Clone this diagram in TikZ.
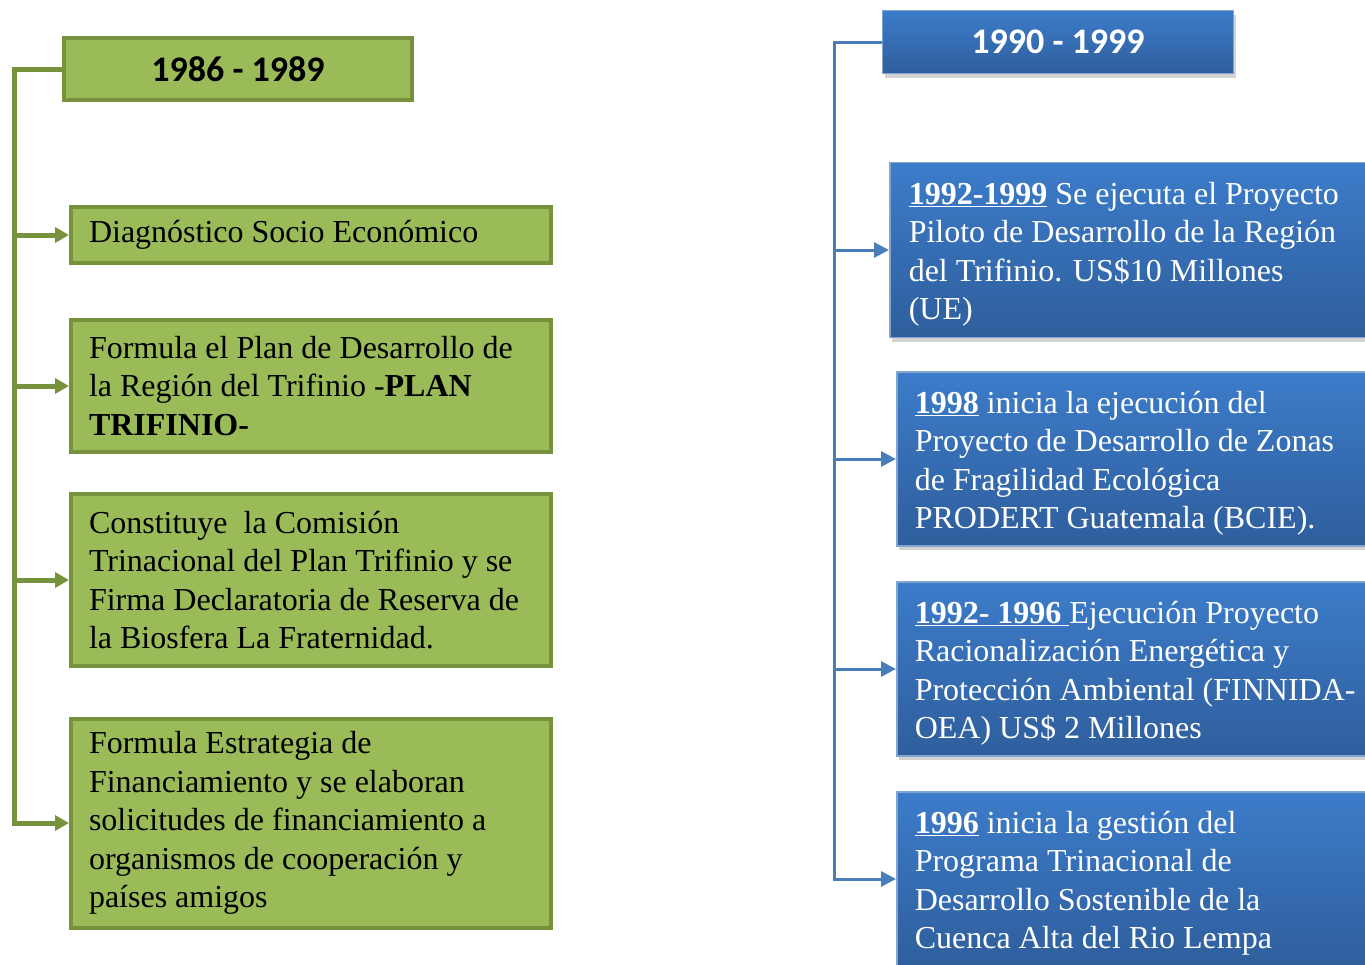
\documentclass[tikz,border=0pt]{standalone}
\usepackage{fontspec}
\setmainfont{Liberation Serif}
\newfontfamily\headfont{Carlito}
\usepackage{tikz}
\usetikzlibrary{arrows.meta,shadows}
\definecolor{olivefill}{HTML}{9BBB59}
\definecolor{olivedark}{HTML}{76923C}
\definecolor{bluetop}{HTML}{3C7CCA}
\definecolor{bluebot}{HTML}{2F5E9C}
\definecolor{blueline}{HTML}{4A7EBB}
\newcommand{\lowerpad}{\par\vspace{-9pt}}
\tikzstyle{greenbox}=[rectangle, draw=olivedark, fill=olivefill, line width=4pt, text width=444pt, inner xsep=18pt, align=left, font=\fontsize{32}{38.5}\selectfont, execute at begin node={\spaceskip=0pt\relax\xspaceskip=0pt\relax}]
\tikzstyle{bluebox}=[rectangle, draw=blueline!70!white, line width=1.5pt, top color=bluetop, bottom color=bluebot, text=white, anchor=west, text width=480pt, inner xsep=18pt, align=left, font=\fontsize{32}{38.5}\selectfont, execute at begin node={\spaceskip=0pt\relax\xspaceskip=0pt\relax}, execute at end node=\lowerpad, drop shadow={shadow xshift=2pt, shadow yshift=-4pt, opacity=0.35}]
\tikzstyle{greenhead}=[rectangle, draw=olivedark, fill=olivefill, line width=4pt, minimum width=348pt, minimum height=62pt, font=\headfont\bfseries\fontsize{36}{40}\selectfont]
\tikzstyle{bluehead}=[rectangle, draw=blueline!70!white, line width=1.5pt, top color=bluetop, bottom color=bluebot, text=white, minimum width=351pt, minimum height=63pt, font=\headfont\bfseries\fontsize{36}{40}\selectfont, drop shadow={shadow xshift=2pt, shadow yshift=-4pt, opacity=0.35}]
\tikzstyle{greenline}=[draw=olivedark, line width=5pt, -{Triangle[length=14pt,width=15pt]}]
\tikzstyle{blueline}=[draw=blueline, line width=3pt, -{Triangle[length=15pt,width=15pt]}]
\newcommand{\greenbox}{\node[greenbox]}
\newcommand{\bluebox}{\node[bluebox]}
\newcommand{\yr}[1]{\underline{\textbf{#1}}}

\begin{document}
\begin{tikzpicture}[x=1pt, y=-1pt]
            \useasboundingbox (0,0) rectangle (1365,964);
            \clip (0,0) rectangle (1365,964);
            % 1986 - 1989
            \node[greenhead] (hl) at (238,69) {1986 - 1989};
            \greenbox (l1) at (311,235) [minimum height=56pt] {Diagnóstico Socio Económico};
            \greenbox (l2) at (311,386) [minimum height=132pt] {Formula el Plan de Desarrollo de\\la Región del Trifinio -\textbf{PLAN}\\\textbf{TRIFINIO-}};
            \greenbox (l3) at (311,580) [minimum height=172pt] {Constituye~ la Comisión\\Trinacional del Plan Trifinio y se\\Firma Declaratoria de Reserva de\\la Biosfera La Fraternidad.};
            \greenbox (l4) at (311,823) [minimum height=209pt] {Formula Estrategia de\\Financiamiento y se elaboran\\solicitudes de financiamiento a\\organismos de cooperación y\\países amigos};
            \coordinate (lt) at (14,69);
            \foreach \n in {l1,l2,l3,l4}
                \draw[greenline] (hl.west) -- (lt) |- (\n.west);
            % 1990 - 1999
            \node[bluehead] (hr) at (1058,42) {1990 - 1999};
            \bluebox (r1) at (889,250) [minimum height=175pt, inner xsep=19pt] {\yr{1992-1999} Se ejecuta el Proyecto\\Piloto de Desarrollo de la Región\\del Trifinio. US\$10 Millones\\(UE)};
            \bluebox (r2) at (896,459) [minimum height=174pt] {\yr{1998} inicia la ejecución del\\Proyecto de Desarrollo de Zonas\\de Fragilidad Ecológica\\PRODERT Guatemala (BCIE).};
            \bluebox (r3) at (896,669) [minimum height=174pt] {\yr{1992- 1996\ }Ejecución Proyecto\\Racionalización Energética y\\Protección Ambiental (FINNIDA-\\OEA) US\$ 2 Millones};
            \bluebox (r4) at (896,879) [minimum height=174pt] {\yr{1996} inicia la gestión del\\Programa Trinacional de\\Desarrollo Sostenible de la\\Cuenca Alta del Rio Lempa};
            \coordinate (rt) at (834,42);
            \foreach \n in {r1,r2,r3,r4}
                \draw[blueline] (hr.west) -- (rt) |- (\n.west);
        \end{tikzpicture}
\end{document}
